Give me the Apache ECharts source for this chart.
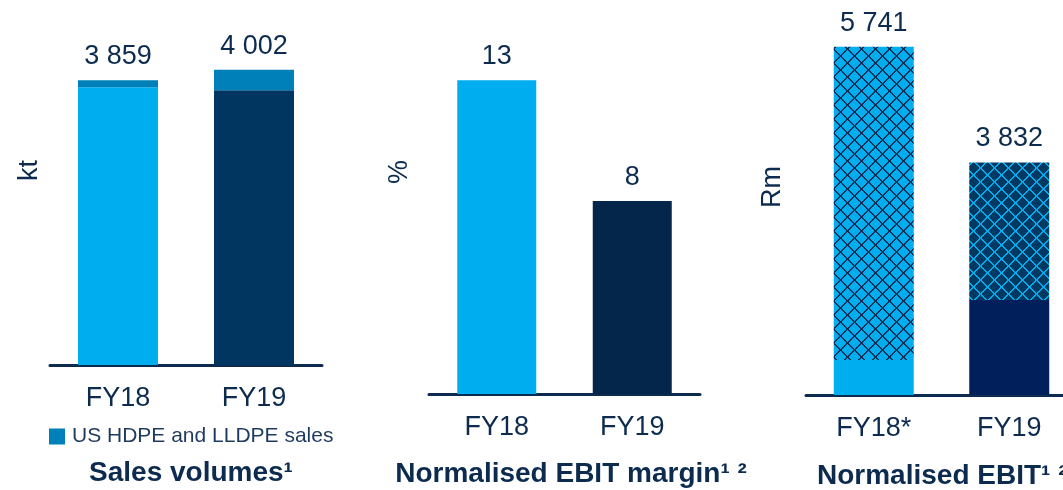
<!DOCTYPE html>
<html>
<head>
<meta charset="utf-8">
<script src="https://cdn.jsdelivr.net/npm/echarts@6/dist/echarts.min.js"></script>
<style>
  html, body { margin: 0; padding: 0; background: #fff; }
  #main { width: 1063px; height: 490px; }
</style>
</head>
<body>
<div id="main"></div>
<script>
// ---- data ----
var years = ['FY18', 'FY19'];
var yearsEbit = ['FY18*', 'FY19'];

// Sales volumes (kt)
var volBase = [3765, 3724];
var volUs = [94, 278];
var volTotal = [3859, 4002];

// Normalised EBIT margin (%)
var margin = [13, 8];

// Normalised EBIT (Rm)
var ebitSolid = [578, 1567];
var ebitHatch = [5163, 2265];
var ebitTotal = [5741, 3832];

// ---- styles ----
var LIGHT = '#00AEEF';
var NAVY = '#0C2B4E';
var TEXT = '#0C2B4E';
var FONT = '"Liberation Sans", Arial, sans-serif';

function fmt(v) {
    return String(v).replace(/\B(?=(\d{3})+(?!\d))/g, ' ');
}

// diamond lattice fill, drawn pixel by pixel so it stays crisp
function hatch(bg, fg) {
    var n = 14;
    var c = document.createElement('canvas');
    c.width = n; c.height = n;
    var ctx = c.getContext('2d');
    ctx.fillStyle = bg;
    ctx.fillRect(0, 0, n, n);
    ctx.fillStyle = fg;
    for (var i = 0; i < n; i++) {
        var a = i, b = n - 1 - i;
        ctx.fillRect(a, i, 1, 1);
        ctx.fillRect((a + 1) % n, i, 1, 1);
        ctx.fillRect(b, i, 1, 1);
        ctx.fillRect((b + 1) % n, i, 1, 1);
    }
    return { image: c, repeat: 'repeat' };
}

var catAxis = function (idx, data) {
    return {
        type: 'category', gridIndex: idx, data: data,
        axisLine: { lineStyle: { color: NAVY, width: 3, cap: 'round' } },
        axisTick: { show: false },
        axisLabel: { fontSize: 27, color: TEXT, fontFamily: FONT, margin: 20 }
    };
};
var valAxis = function (idx, max) {
    return {
        type: 'value', gridIndex: idx, min: 0, max: max, show: false
    };
};
var topLabel = function (totals) {
    return {
        show: true, position: 'top', distance: 10,
        fontSize: 27, color: TEXT, fontFamily: FONT,
        formatter: function (p) { return fmt(totals[p.dataIndex]); }
    };
};

var chart = echarts.init(document.getElementById('main'));
chart.setOption({
    animation: false,
    textStyle: { fontFamily: FONT },
    grid: [
        { left: 50, width: 272, top: 33, height: 332, outerBoundsMode: 'none' },
        { left: 429, width: 271, top: 32, height: 362, outerBoundsMode: 'none' },
        { left: 806, width: 271, top: 31, height: 364, outerBoundsMode: 'none' }
    ],
    xAxis: [catAxis(0, years), catAxis(1, years), catAxis(2, yearsEbit)],
    yAxis: [valAxis(0, 4500), valAxis(1, 15), valAxis(2, 6000)],
    legend: {
        data: ['US HDPE and LLDPE sales'],
        left: 49, top: 426, padding: 0,
        itemWidth: 16, itemHeight: 16, itemGap: 7,
        selectedMode: false,
        icon: 'rect',
        textStyle: { fontSize: 21, color: '#1F3A5F', fontFamily: FONT, padding: [0, 0, 0, 2] }
    },
    graphic: [
        { type: 'text', left: 16, top: 160, rotation: Math.PI / 2,
          style: { text: 'kt', fontSize: 27, fill: TEXT, fontFamily: FONT } },
        { type: 'text', left: 386, top: 160, rotation: Math.PI / 2,
          style: { text: '%', fontSize: 27, fill: TEXT, fontFamily: FONT } },
        { type: 'text', left: 759, top: 166, rotation: Math.PI / 2,
          style: { text: 'Rm', fontSize: 27, fill: TEXT, fontFamily: FONT } },
        { type: 'text', x: 191, y: 473,
          style: { text: 'Sales volumes\u00b9', fontSize: 28, fontWeight: 'bold', fill: TEXT,
                   fontFamily: FONT, align: 'center', verticalAlign: 'middle' } },
        { type: 'text', x: 571, y: 474,
          style: { text: 'Normalised EBIT margin\u00b9 \u00b2', fontSize: 28, fontWeight: 'bold', fill: TEXT,
                   fontFamily: FONT, align: 'center', verticalAlign: 'middle' } },
        { type: 'text', x: 817, y: 476,
          style: { text: 'Normalised EBIT\u00b9 \u00b2', fontSize: 28, fontWeight: 'bold', fill: TEXT,
                   fontFamily: FONT, align: 'left', verticalAlign: 'middle' } }
    ],
    series: [
        {
            name: 'Sales', type: 'bar', stack: 'vol', xAxisIndex: 0, yAxisIndex: 0,
            barWidth: 80,
            data: volBase.map(function (v, i) {
                return { value: v, itemStyle: { color: i === 0 ? LIGHT : '#003660' } };
            })
        },
        {
            name: 'US HDPE and LLDPE sales', type: 'bar', stack: 'vol', xAxisIndex: 0, yAxisIndex: 0,
            barWidth: 80, itemStyle: { color: '#0080B8' },
            label: topLabel(volTotal),
            data: volUs
        },
        {
            name: 'Margin', type: 'bar', xAxisIndex: 1, yAxisIndex: 1,
            barWidth: 79,
            label: topLabel(margin),
            data: margin.map(function (v, i) {
                return { value: v, itemStyle: { color: i === 0 ? LIGHT : '#05264B' } };
            })
        },
        {
            name: 'EBIT', type: 'bar', stack: 'ebit', xAxisIndex: 2, yAxisIndex: 2,
            barWidth: 80,
            data: ebitSolid.map(function (v, i) {
                return { value: v, itemStyle: { color: i === 0 ? LIGHT : '#001F5B' } };
            })
        },
        {
            name: 'EBIT hatched', type: 'bar', stack: 'ebit', xAxisIndex: 2, yAxisIndex: 2,
            barWidth: 80,
            label: topLabel(ebitTotal),
            data: ebitHatch.map(function (v, i) {
                return { value: v, itemStyle: { color: i === 0 ? hatch(LIGHT, '#0A2E55') : hatch('#003A63', LIGHT) } };
            })
        }
    ]
});
</script>
</body>
</html>
